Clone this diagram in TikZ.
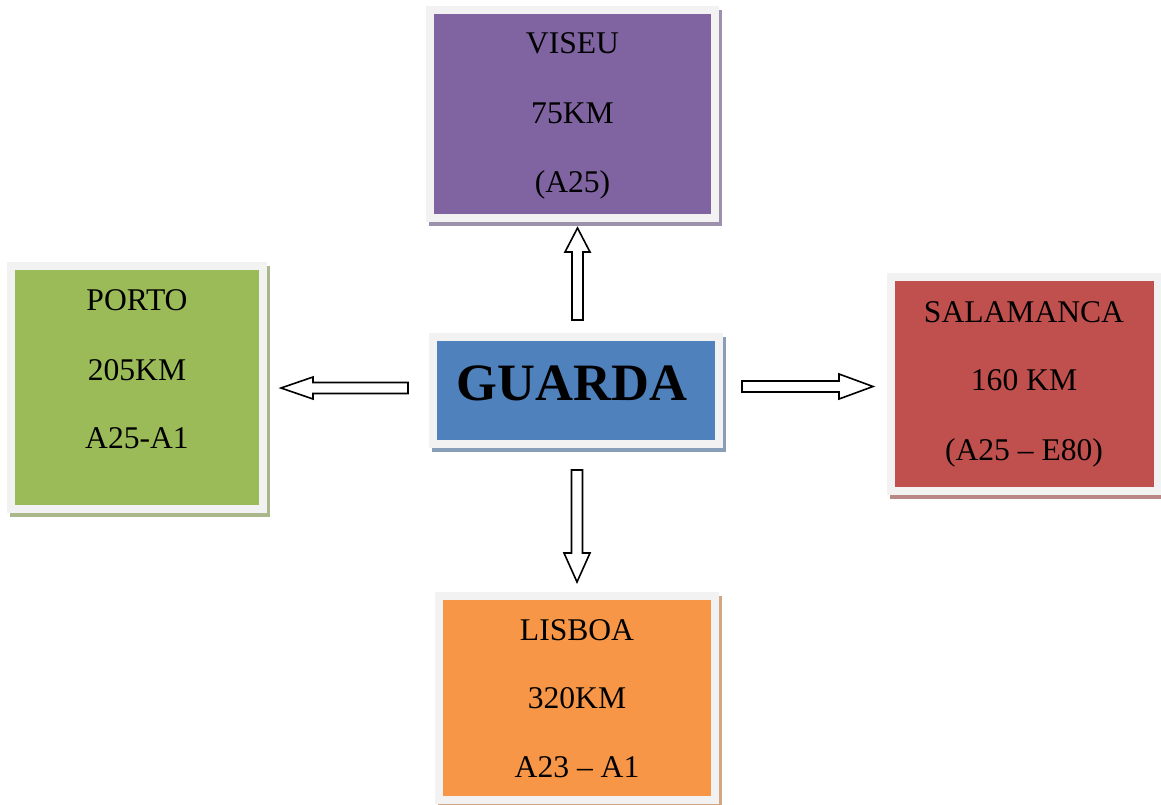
\documentclass[tikz,border=0pt]{standalone}
\usepackage{fontspec}
\setmainfont{Liberation Serif}
\definecolor{framegray}{HTML}{F2F2F2}
\definecolor{sgray}{HTML}{B4B4B4}
\definecolor{cpurple}{HTML}{8064A2}
\definecolor{cblue}{HTML}{4F81BD}
\definecolor{cgreen}{HTML}{9BBB59}
\definecolor{cred}{HTML}{C0504D}
\definecolor{corange}{HTML}{F79646}
\begin{document}
\begin{tikzpicture}[x=1pt,y=-1pt,
  cbox/.style={rectangle, inner sep=0pt, outer sep=0pt, draw=framegray, line width=8pt, fill=#1,
    preaction={draw=#1!45!sgray, fill=#1!45!sgray, transform canvas={xshift=3pt,yshift=-4pt}}},
  txt/.style={anchor=base, inner sep=0pt, font=\fontsize{31.6}{36}\selectfont},
  bigtxt/.style={anchor=base, inner sep=0pt, font=\fontsize{52.5}{60}\selectfont\bfseries},
  blockarr/.style={draw=black, line width=1.6pt, fill=white, line join=miter}]
\useasboundingbox (0,0) rectangle (1161,804);
% boxes
\node[cbox=cpurple, minimum width=285pt, minimum height=208pt] (viseu) at (572.5,114) {};
\node[cbox=cblue, minimum width=286pt, minimum height=107pt] (guarda) at (576,390.5) {};
\node[cbox=cgreen, minimum width=252pt, minimum height=243pt] (porto) at (137,387.5) {};
\node[cbox=cred, minimum width=267pt, minimum height=214pt] (salamanca) at (1024.5,384) {};
\node[cbox=corange, minimum width=276pt, minimum height=204pt] (lisboa) at (577,698) {};
% texts
\node[txt] (v1) at (572.5,53) {VISEU};
\node[txt] (v2) at (572.5,123) {75KM};
\node[txt] (v3) at (572.5,192) {(A25)};
\node[txt] (p1) at (137,310) {PORTO};
\node[txt] (p2) at (137,380) {205KM};
\node[txt] (p3) at (137,448) {A25-A1};
\node[txt] (s1) at (1024,322) {SALAMANCA};
\node[txt] (s2) at (1024,390) {160 KM};
\node[txt] (s3) at (1024,460) {(A25 – E80)};
\node[txt] (l1) at (577,640) {LISBOA};
\node[txt] (l2) at (577,708) {320KM};
\node[txt] (l3) at (577,777) {A23 – A1};
\node[bigtxt] (g1) at (572,400) {GUARDA};
% block arrows
\draw[blockarr] (742,381) -- (839,381) -- (839,374) -- (873,386.5) -- (839,399) -- (839,392) -- (742,392) -- cycle;
\draw[blockarr] (408,382.5) -- (313,382.5) -- (313,377) -- (281,388) -- (313,399) -- (313,393.5) -- (408,393.5) -- cycle;
\draw[blockarr] (572,320) -- (572,252) -- (565,252) -- (577.5,228) -- (590,252) -- (583,252) -- (583,320) -- cycle;
\draw[blockarr] (571.5,470) -- (582.5,470) -- (582.5,553) -- (590,553) -- (577,582) -- (564,553) -- (571.5,553) -- cycle;
\end{tikzpicture}
\end{document}
